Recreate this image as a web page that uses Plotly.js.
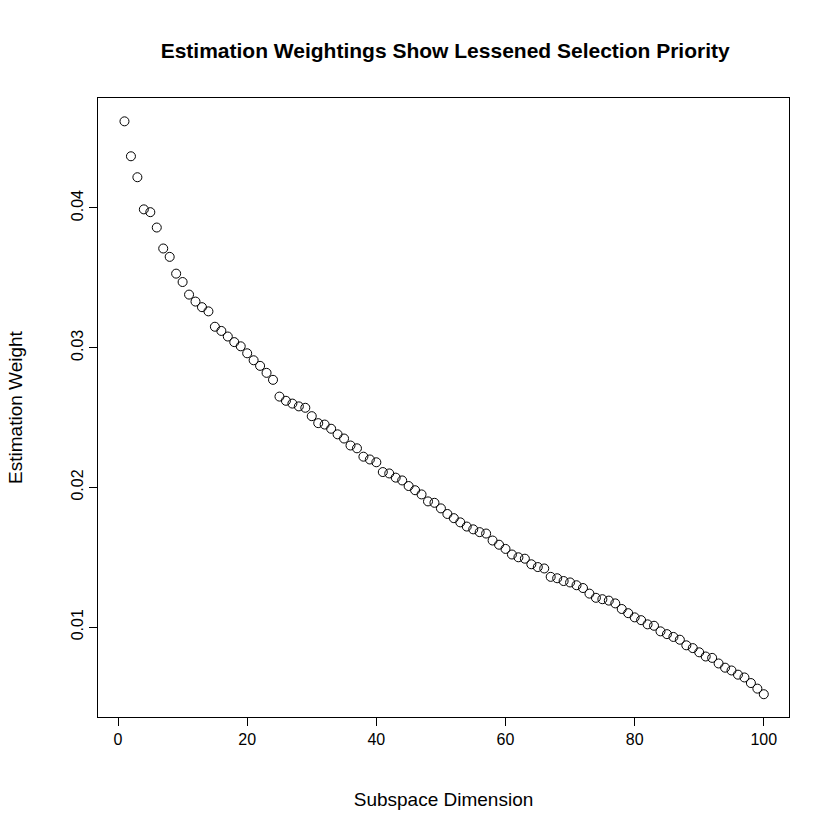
<!DOCTYPE html>
<html><head><script src="https://cdn.plot.ly/plotly-3.0.1.min.js"></script></head>
<body style="margin:0"><div id="c" style="width:840px;height:840px"></div>
<script>
const dims = Array.from({length:100},(_,i)=>i+1);
const weights = [0.0462,0.0437,0.0422,0.0399,0.0397,0.0386,0.0371,0.0365,0.0353,0.0347,
0.0338,0.0333,0.0329,0.0326,0.0315,0.0312,0.0308,0.0304,0.0301,0.0296,
0.0291,0.0287,0.0282,0.0277,0.0265,0.0262,0.0260,0.0258,0.0257,0.0251,
0.0246,0.0245,0.0242,0.0238,0.0235,0.0230,0.0228,0.0222,0.0220,0.0218,
0.0211,0.0210,0.0207,0.0205,0.0201,0.0198,0.0195,0.0190,0.0189,0.0185,
0.0181,0.0178,0.0175,0.0172,0.0170,0.0168,0.0167,0.0162,0.0159,0.0156,
0.0152,0.0150,0.0149,0.0145,0.0143,0.0142,0.0136,0.0135,0.0133,0.0132,
0.0130,0.0128,0.0124,0.0121,0.0120,0.0119,0.0117,0.0113,0.0110,0.0107,
0.0105,0.0102,0.0101,0.0097,0.0095,0.0093,0.0091,0.0087,0.0085,0.0082,
0.0079,0.0078,0.0074,0.0071,0.0069,0.0066,0.0064,0.0060,0.0056,0.0052];
const xTicks=[0,20,40,60,80,100], yTicks=[0.01,0.02,0.03,0.04];
const yTickText=["0.01","0.02","0.03","0.04"];
Plotly.newPlot('c',[{x:dims,y:weights,mode:'markers',type:'scatter',
 marker:{symbol:'circle-open',size:9,color:'black',line:{width:1,color:'black'}}}],{
 width:840,height:840,margin:{l:98,r:51,t:98,b:123},
 font:{family:'Liberation Sans, Arial',size:16,color:'black'},
 plot_bgcolor:'white',paper_bgcolor:'white',showlegend:false,
 title:{text:'<b>Estimation Weightings Show Lessened Selection Priority</b>',x:0.53,xanchor:'center',y:0.94,yanchor:'middle',font:{size:21}},
 xaxis:{range:[-3.1,103.9],tickvals:xTicks,showgrid:false,zeroline:false,showline:true,mirror:true,linecolor:'black',linewidth:1,ticks:'outside',ticklen:8,tickcolor:'black',
  title:{text:'Subspace Dimension',standoff:45}},
 yaxis:{range:[0.00357,0.04787],tickvals:yTicks,ticktext:yTickText,tickangle:-90,showgrid:false,zeroline:false,showline:true,mirror:true,linecolor:'black',linewidth:1,ticks:'outside',ticklen:8,tickcolor:'black',
  title:{text:'Estimation Weight',standoff:40}}
},{staticPlot:true});
</script></body></html>
